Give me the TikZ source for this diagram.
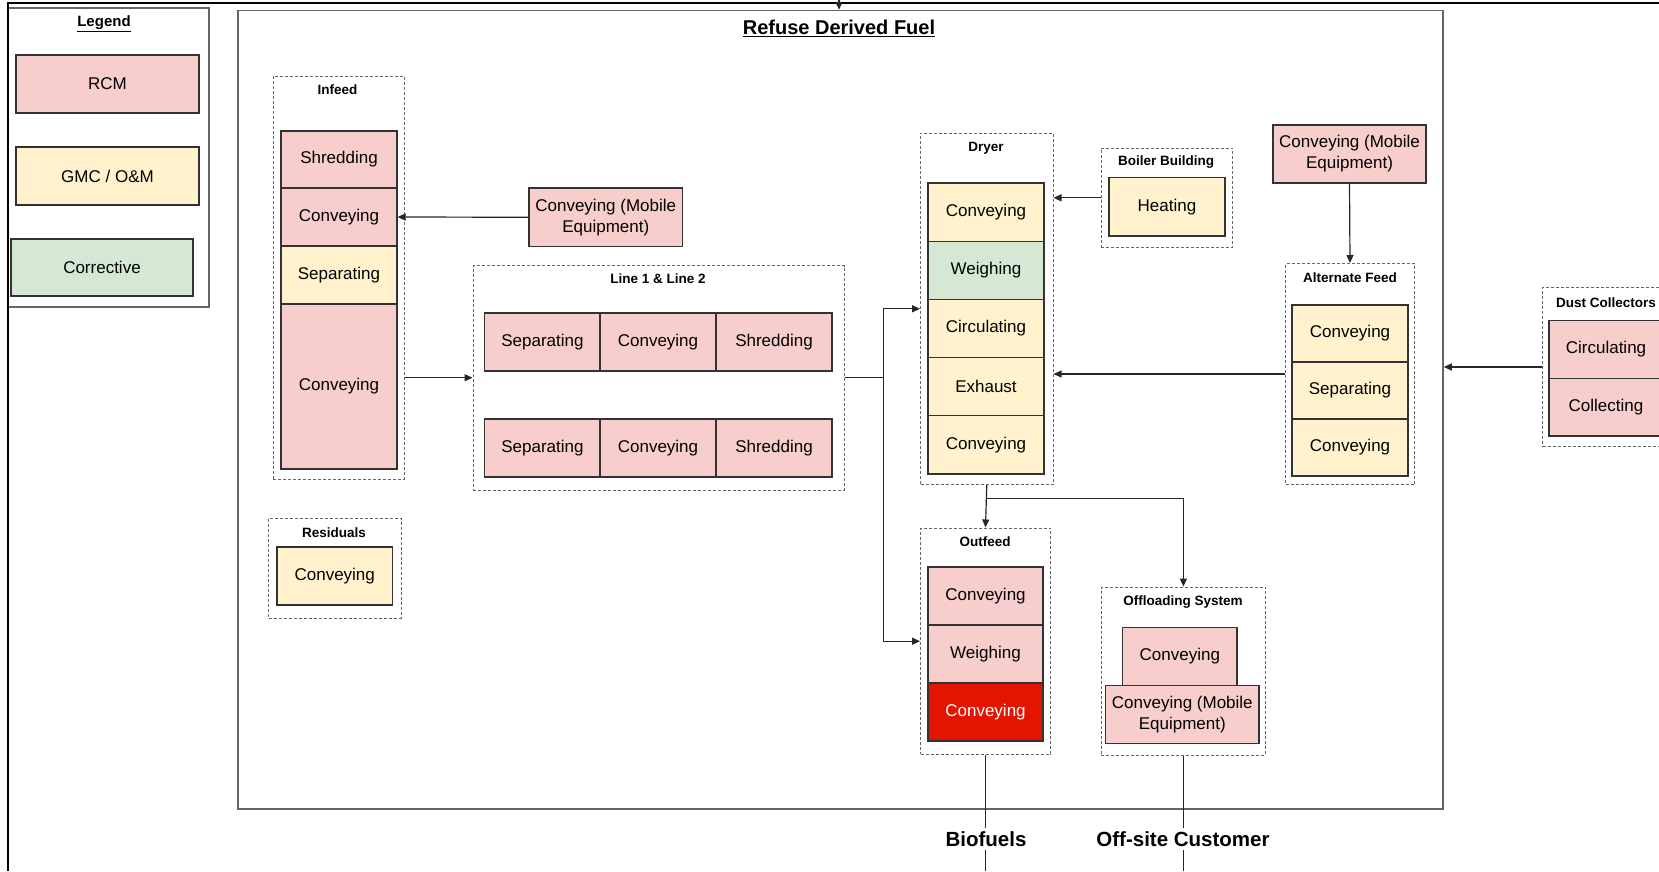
\documentclass[tikz,border=0pt]{standalone}
\usepackage{fontspec}
\setmainfont{Liberation Sans}
\usetikzlibrary{arrows.meta,positioning}
\definecolor{rcmpink}{HTML}{F8CECC}
\definecolor{gmcyellow}{HTML}{FFF2CC}
\definecolor{corgreen}{HTML}{D5E8D4}
\definecolor{failred}{HTML}{E51400}

\begin{document}
\begin{tikzpicture}[
    x=1pt, y=-1pt, font=\fontsize{17}{21}\selectfont,
    wh/.style 2 args={minimum width=#1, minimum height=#2},
    box/.style={draw=black!80, line width=1.2pt, inner sep=0pt, align=center},
    rcm/.style={box, fill=rcmpink},
    gmc/.style={box, fill=gmcyellow},
    cor/.style={box, fill=corgreen},
    bad/.style={box, fill=failred, text=white},
    grp/.style={draw=black!60, dash pattern=on 3pt off 2pt, line width=1pt,
      inner sep=0pt},
    outline/.style={draw=black!60, line width=1.5pt, inner sep=0pt},
    ttl/.style={font=\bfseries\fontsize{13.5}{15}\selectfont},
    sink/.style={fill=white, inner sep=3pt,
      font=\bfseries\fontsize{20.5}{23}\selectfont},
    link/.style={draw=black!85, line width=1.2pt,
      -{Triangle[length=8pt,width=7pt]}}]

    \path[use as bounding box, fill=white] (0,0) rectangle (1659,871);

    % vertices

    \node[outline, wh={201}{299}] (legend) at (108.5,157.5) {};
    \node[font=\bfseries\fontsize{15}{17}\selectfont] (legendT) at (104,24) {\underline{Legend}};
    \node[rcm, wh={183}{58}] (keyrcm) at (107.5,84) {RCM};
    \node[gmc, wh={183}{58}] (keygmc) at (107.5,176) {GMC / O\&M};
    \node[cor, wh={182}{57}] (keycor) at (102,267.5) {Corrective};

    \node[outline, wh={1205}{798.5}] (rdf) at (840.5,409.75) {};
    \node[font=\bfseries\fontsize{20}{22}\selectfont] (rdfT) at (839,28.5) {\underline{Refuse Derived Fuel}};

    \node[grp, wh={131}{403}] (inf) at (338.5,277.5) {};
    \node[ttl] (infT) at (337.5,90) {Infeed};
    \node[rcm, wh={116}{57}] (inf1) at (339,159.5) {Shredding};
    \node[rcm, wh={116}{58}] (inf2) at (339,217) {Conveying};
    \node[gmc, wh={116}{58}] (inf3) at (339,275) {Separating};
    \node[rcm, wh={116}{165}] (inf4) at (339,386.5) {Conveying};

    \node[rcm, wh={153.5}{58.5}] (mob1) at (605.75,217.25) {Conveying (Mobile\\Equipment)};

    \node[grp, wh={371}{224.5}] (lines) at (658.5,377.75) {};
    \node[ttl] (linesT) at (658,279) {Line 1 \& Line 2};
    \node[rcm, wh={116}{58}] (l1a) at (542.5,342) {Separating};
    \node[rcm, wh={116}{58}] (l1b) at (658,342) {Conveying};
    \node[rcm, wh={116}{58}] (l1c) at (774,342) {Shredding};
    \node[rcm, wh={116}{58}] (l2a) at (542.5,448) {Separating};
    \node[rcm, wh={116}{58}] (l2b) at (658,448) {Conveying};
    \node[rcm, wh={116}{58}] (l2c) at (774,448) {Shredding};

    \node[grp, wh={132.5}{351.6}] (dryer) at (986.75,308.8) {};
    \node[ttl] (dryerT) at (986,148) {Dryer};
    \node[gmc, wh={116}{58.2}] (dr1) at (986,212) {Conveying};
    \node[cor, wh={116}{58.2}] (dr2) at (986,270.2) {Weighing};
    \node[gmc, wh={116}{58.2}] (dr3) at (986,328.4) {Circulating};
    \node[gmc, wh={116}{58.2}] (dr4) at (986,386.6) {Exhaust};
    \node[gmc, wh={116}{58.2}] (dr5) at (986,444.8) {Conveying};

    \node[grp, wh={131.6}{99.6}] (boiler) at (1166.8,197.8) {};
    \node[ttl] (boilerT) at (1166,162) {Boiler Building};
    \node[gmc, wh={116}{58.3}] (heat) at (1167,206.85) {Heating};

    \node[rcm, wh={153}{58}] (mob2) at (1349.5,154) {Conveying (Mobile\\Equipment)};

    \node[grp, wh={129}{221}] (alt) at (1350,374) {};
    \node[ttl] (altT) at (1350,278) {Alternate Feed};
    \node[gmc, wh={116}{57}] (alt1) at (1350,333.5) {Conveying};
    \node[gmc, wh={116}{57}] (alt2) at (1350,390.5) {Separating};
    \node[gmc, wh={116}{57}] (alt3) at (1350,447.5) {Conveying};

    \node[grp, wh={126.5}{158.7}] (dust) at (1606,367) {};
    \node[ttl] (dustT) at (1606,302.6) {Dust Collectors};
    \node[rcm, wh={114}{57.7}] (dust1) at (1606,349.5) {Circulating};
    \node[rcm, wh={114}{57.7}] (dust2) at (1606,407.2) {Collecting};

    \node[grp, wh={132.3}{99.6}] (resid) at (334.85,568.2) {};
    \node[ttl] (residT) at (334,533) {Residuals};
    \node[gmc, wh={115.5}{58}] (res1) at (334.75,576) {Conveying};

    \node[grp, wh={130}{226.4}] (outf) at (985.5,641.2) {};
    \node[ttl] (outfT) at (985,541.7) {Outfeed};
    \node[rcm, wh={115}{58}] (out1) at (985.5,596) {Conveying};
    \node[rcm, wh={115}{58}] (out2) at (985.5,654) {Weighing};
    \node[bad, wh={115}{58}] (out3) at (985.5,712) {Conveying};

    \node[grp, wh={164}{168.4}] (offl) at (1183.4,671.2) {};
    \node[ttl] (offlT) at (1183,602) {Offloading System};
    \node[rcm, wh={114.4}{58.2}] (off1) at (1179.8,656.5) {Conveying};
    \node[rcm, wh={153.4}{58.2}] (off2) at (1182.3,714.7) {Conveying (Mobile\\Equipment)};

    \coordinate (tl) at (8,2.5);
    \coordinate (tr) at (1659,2.5);
    \coordinate (bl) at (8,871);
    \coordinate (topIn) at (839,0);
    \coordinate (split) at (883.5,377.75);
    \coordinate (bioEnd) at (985.5,871);
    \coordinate (custEnd) at (1183.4,871);

    % edges

    \draw[line width=2pt] (tr) -- (tl) -- (bl);
    \draw[link] (topIn) -- (topIn |- rdf.north);

    \draw[link] (mob1.west) -- (inf2.east);
    \draw[link] (inf.east |- lines.west) -- (lines.west);
    \draw[draw=black!85, line width=1.2pt] (lines.east) -- (split);
    \draw[link] (split) |- (dryer.west);
    \draw[link] (split) |- (outf.west);
    \draw[link] (boiler.west) -- (boiler.west -| dryer.east);
    \draw[link] (mob2.south) -- (alt.north);
    \draw[link] (alt.west) -- (alt.west -| dryer.east);
    \draw[link] (dust.west) -- (dust.west -| rdf.east);
    \draw[link] (dryer.south) -- (outf.north);
    \draw[link] (dryer.south) ++(0,13.7) -| (offl.north);

    \draw[draw=black!85, line width=1.2pt] (outf.south) -- (bioEnd);
    \draw[draw=black!85, line width=1.2pt] (offl.south) -- (custEnd);
    \node[sink] (bio) at (986,839) {Biofuels};
    \node[sink] (cust) at (1183,839) {Off-site Customer};
  \end{tikzpicture}
\end{document}
